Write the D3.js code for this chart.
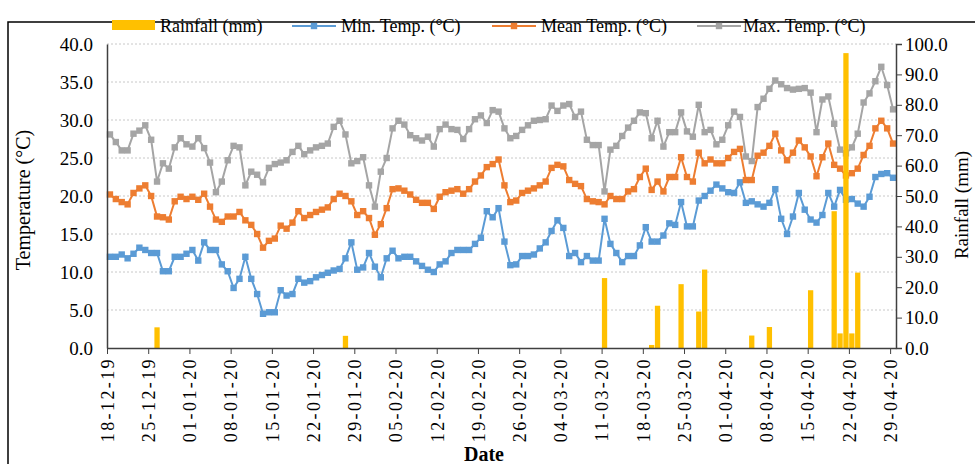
<!DOCTYPE html>
<html>
<head>
<meta charset="utf-8">
<script src="https://cdn.jsdelivr.net/npm/d3@7"></script>
<style>
  html, body { margin: 0; padding: 0; background: #fff; }
  svg { display: block; }
  text { font-family: "Liberation Serif", "Times New Roman", serif; fill: #000; }
</style>
</head>
<body>
<svg id="chart" width="975" height="464"></svg>
<script>
// ---------- DATA ----------
const startDate = new Date(2019, 11, 18);   // 18-12-2019
const dayCount = 134;                         // through 29-04-2020

const tickLabels = ["18-12-19","25-12-19","01-01-20","08-01-20","15-01-20","22-01-20","29-01-20",
  "05-02-20","12-02-20","19-02-20","26-02-20","04-03-20","11-03-20","18-03-20","25-03-20",
  "01-04-20","08-04-20","15-04-20","22-04-20","29-04-20"];

const minTemp = [12.0,12.0,12.3,11.8,12.4,13.2,12.9,12.5,12.5,10.1,10.1,12.0,12.0,12.4,12.9,11.5,13.9,12.9,12.9,11.0,
  10.1,7.9,9.1,12.0,9.1,7.1,4.5,4.7,4.7,7.6,6.9,7.1,9.1,8.6,8.8,9.3,9.6,9.9,10.2,10.4,
  11.8,13.9,10.3,10.6,12.5,10.7,9.3,11.8,12.8,11.8,12.0,12.0,11.4,10.8,10.3,10.0,11.0,11.4,12.5,12.9,
  12.9,12.9,13.7,14.5,18.0,17.2,18.4,14.0,10.9,11.0,12.1,12.1,12.3,13.1,13.9,15.4,16.8,15.8,12.1,12.5,
  11.3,12.1,11.5,11.5,17.0,13.7,12.5,11.3,12.1,12.1,13.5,15.9,14.0,14.0,14.8,16.4,16.2,19.2,16.0,16.0,
  19.4,20.0,20.7,21.5,21.0,20.5,20.4,21.8,19.1,19.3,18.9,18.6,19.1,20.9,17.0,15.0,17.3,20.4,18.2,16.9,
  16.5,17.5,20.4,18.6,20.8,19.5,19.6,19.0,18.6,19.9,22.5,22.9,23.0,22.4];

const meanTemp = [20.2,19.6,19.2,18.9,20.4,21.0,21.4,20.0,17.3,17.2,16.9,19.3,19.9,19.6,19.9,19.5,20.3,18.6,16.9,16.6,
  17.3,17.3,17.9,16.8,16.2,15.0,13.2,14.1,14.4,16.1,15.7,16.5,18.0,17.1,17.5,17.9,18.2,18.5,19.6,20.3,
  20.0,19.3,17.5,18.0,17.1,14.9,16.3,18.4,20.9,21.0,20.7,20.2,19.5,19.1,19.1,18.3,19.9,20.5,20.7,20.9,
  20.3,20.9,21.9,22.7,23.8,24.2,24.8,21.4,19.2,19.4,20.4,20.7,21.0,21.4,21.9,23.7,24.1,23.9,22.1,21.6,
  21.3,19.6,19.3,19.2,18.9,20.0,19.6,19.6,20.6,20.9,22.5,23.6,20.8,21.9,20.6,22.5,22.5,25.1,22.5,21.9,
  25.7,24.3,24.8,24.3,24.3,25.0,25.8,26.2,22.1,22.1,25.3,25.7,26.6,28.2,26.0,24.7,25.7,27.3,26.4,25.2,
  22.6,25.1,26.9,24.1,23.6,22.7,23.0,23.6,25.4,26.6,28.9,29.9,28.9,26.9];

const maxTemp = [28.1,27.1,26.0,26.0,28.2,28.6,29.3,27.4,21.9,24.3,23.6,26.4,27.6,26.8,26.5,27.6,26.3,24.4,20.5,21.9,
  24.7,26.6,26.4,21.4,23.2,22.8,21.8,23.7,24.2,24.4,24.7,25.8,26.6,25.5,26.0,26.4,26.6,26.9,29.1,29.9,
  28.1,24.3,24.6,25.1,21.4,18.6,23.2,25.0,28.9,29.9,29.4,28.0,27.6,27.3,27.8,26.5,28.8,29.4,28.8,28.7,
  27.5,28.8,30.1,30.6,29.6,31.3,31.1,28.9,27.6,27.9,28.7,29.3,29.9,30.0,30.1,31.9,31.2,31.9,32.1,30.4,
  31.1,27.4,26.7,26.7,20.6,26.1,26.6,27.9,29.0,29.9,31.0,30.9,27.6,29.9,26.5,28.4,28.4,31.0,28.5,27.8,
  32.0,28.4,28.7,26.8,27.4,29.3,31.1,30.4,25.2,24.6,31.7,32.8,34.1,35.2,34.7,34.2,34.0,34.1,34.2,33.6,
  28.4,32.7,33.1,29.5,26.1,25.6,26.4,28.2,32.3,33.5,35.1,37.0,34.6,31.4];

const rainfall = [0,0,0,0,0,0,0,0,6.8,0,0,0,0,0,0,0,0,0,0,0,
  0,0,0,0,0,0,0,0,0,0,0,0,0,0,0,0,0,0,0,0,
  4.0,0,0,0,0,0,0,0,0,0,0,0,0,0,0,0,0,0,0,0,
  0,0,0,0,0,0,0,0,0,0,0,0,0,0,0,0,0,0,0,0,
  0,0,0,0,23.0,0,0,0,0,0,0,0,1.0,13.9,0,0,0,21.0,0,0,
  12.0,25.8,0,0,0,0,0,0,0,4.1,0,0,6.9,0,0,0,0,0,0,19.0,
  0,0,0,45.0,4.8,97.0,4.8,24.8,0,0,0,0,0,0];

const tempTicks = [0,5,10,15,20,25,30,35,40];
const rainTicks = [0,10,20,30,40,50,60,70,80,90,100];

const seriesNames = ["Rainfall (mm)","Min. Temp. (°C)","Mean Temp. (°C)","Max. Temp. (°C)"];
const colors = { rain: "#FFC000", min: "#5B9BD5", mean: "#ED7D31", max: "#A5A5A5" };

// ---------- LAYOUT ----------
const L = 107, R = 896, T = 44, B = 348;
const dates = d3.timeDay.range(startDate, d3.timeDay.offset(startDate, dayCount));
const svg = d3.select("#chart");

const x = d3.scaleBand().domain(dates).range([L, R]).padding(0);
const xi = d3.scaleLinear().domain([0, dayCount]).range([L, R]);
const yT = d3.scaleLinear().domain([0, 40]).range([B, T]);
const yR = d3.scaleLinear().domain([0, 100]).range([B, T]);
const cx = d => x(d) + x.bandwidth() / 2;

// outer frame
svg.append("rect").attr("x", 8).attr("y", 22).attr("width", 990).attr("height", 470)
  .attr("fill", "none").attr("stroke", "#000").attr("stroke-width", 1.5);

// gridlines
svg.append("g").selectAll("line").data(tempTicks.filter(t => t > 0)).join("line")
  .attr("x1", L).attr("x2", R).attr("y1", d => yT(d)).attr("y2", d => yT(d))
  .attr("stroke", "#c8c8c8").attr("stroke-width", 1).attr("stroke-dasharray", "2,2");

// lines
const series = [
  { key: "min", vals: minTemp },
  { key: "mean", vals: meanTemp },
  { key: "max", vals: maxTemp }
];
const lineGen = d3.line().x((v, i) => cx(dates[i])).y(v => yT(v));
series.forEach(s => {
  const g = svg.append("g");
  g.append("path").datum(s.vals).attr("d", lineGen).attr("fill", "none")
    .attr("stroke", colors[s.key]).attr("stroke-width", 2);
  g.selectAll("rect").data(s.vals).join("rect")
    .attr("x", (v, i) => cx(dates[i]) - 3.2).attr("y", v => yT(v) - 3.2)
    .attr("width", 6.4).attr("height", 6.4).attr("fill", colors[s.key]);
});

// rainfall bars (secondary axis, drawn on top)
svg.append("g").selectAll("rect").data(rainfall).join("rect")
  .attr("x", (v, i) => x(dates[i]) + 0.3).attr("width", x.bandwidth() - 0.6)
  .attr("y", v => yR(v)).attr("height", v => B - yR(v))
  .attr("fill", colors.rain);

// left axis
const axL = svg.append("g").attr("transform", `translate(${L},0)`)
  .call(d3.axisLeft(yT).tickValues(tempTicks).tickFormat(d3.format(".1f")).tickSize(0).tickPadding(14));
axL.select(".domain").attr("stroke", "#404040").attr("stroke-width", 1.5);
axL.selectAll("text").style("font-size", "19px").style("font-family", "Liberation Serif");

// right axis
const axR = svg.append("g").attr("transform", `translate(${R},0)`)
  .call(d3.axisRight(yR).tickValues(rainTicks).tickFormat(d3.format(".1f")).tickSize(6).tickPadding(3));
axR.select(".domain").attr("stroke", "#404040").attr("stroke-width", 1.5);
axR.selectAll("line").attr("stroke", "#404040");
axR.selectAll("text").style("font-size", "19px").style("font-family", "Liberation Serif");

// bottom axis
const tickIdx = d3.range(0, dayCount, 7);
const axB = svg.append("g").attr("transform", `translate(0,${B})`)
  .call(d3.axisBottom(xi).tickValues(tickIdx).tickFormat((d, i) => tickLabels[i]).tickSize(6).tickSizeOuter(0));
axB.select(".domain").attr("stroke", "#404040").attr("stroke-width", 1.5);
axB.selectAll("line").attr("stroke", "#404040");
axB.selectAll("text")
  .style("font-size", "18px").style("font-family", "Liberation Serif")
  .style("letter-spacing", "2.4px")
  .attr("text-anchor", "end").attr("dy", "0.35em")
  .attr("transform", "translate(0,9) rotate(-90)")
  .attr("x", 0).attr("y", 0);

// axis titles
svg.append("text").attr("transform", "translate(30,200) rotate(-90)")
  .attr("text-anchor", "middle").style("font-size", "20px").text("Temperature (°C)");
svg.append("text").attr("transform", "translate(968,205) rotate(-90)")
  .attr("text-anchor", "middle").style("font-size", "19px").text("Rainfall (mm)");
svg.append("text").attr("x", 484).attr("y", 461).attr("text-anchor", "middle")
  .style("font-size", "20px").style("font-weight", "bold").text("Date");

// legend
const lg = svg.append("g");
lg.append("rect").attr("x", 112).attr("y", 20).attr("width", 43).attr("height", 10).attr("fill", colors.rain);
lg.append("text").attr("x", 160).attr("y", 32).style("font-size", "18px").text(seriesNames[0]);
const legLines = [
  { key: "min", x1: 292, tx: 341, name: seriesNames[1] },
  { key: "mean", x1: 492, tx: 541, name: seriesNames[2] },
  { key: "max", x1: 697, tx: 743, name: seriesNames[3] }
];
legLines.forEach(l => {
  lg.append("line").attr("x1", l.x1).attr("x2", l.x1 + 44).attr("y1", 26).attr("y2", 26)
    .attr("stroke", colors[l.key]).attr("stroke-width", 2);
  lg.append("rect").attr("x", l.x1 + 22 - 3.2).attr("y", 26 - 3.2).attr("width", 6.4).attr("height", 6.4)
    .attr("fill", colors[l.key]);
  lg.append("text").attr("x", l.tx).attr("y", 32).style("font-size", "18px").text(l.name);
});
</script>
</body>
</html>
